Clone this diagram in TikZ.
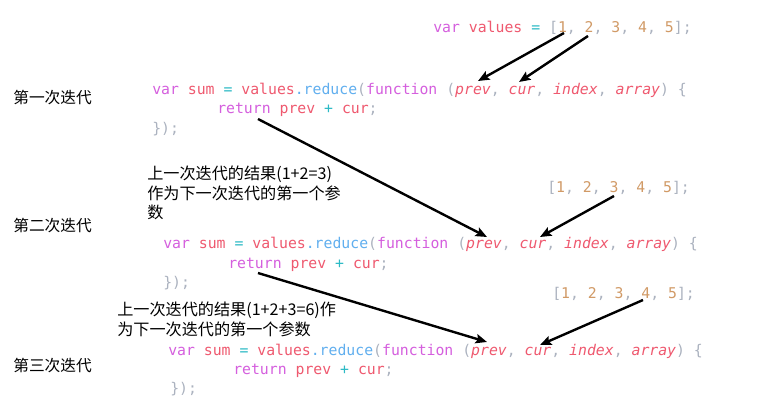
\documentclass[tikz,border=0pt]{standalone}
\usepackage{fontspec}
\usetikzlibrary{arrows.meta}
\newfontfamily\cjk{Noto Sans CJK SC}
\newfontfamily\codefont{DejaVu Sans Mono}
\definecolor{kwc}{HTML}{D55FDE}
\definecolor{vrc}{HTML}{EF596F}
\definecolor{opc}{HTML}{2BBAC5}
\definecolor{fnc}{HTML}{61AFEF}
\definecolor{puc}{HTML}{ABB2BF}
\definecolor{nmc}{HTML}{D19A66}
\newcommand\ckw[1]{\textcolor{kwc}{#1}}
\newcommand\cvr[1]{\textcolor{vrc}{#1}}
\newcommand\civ[1]{\textcolor{vrc}{\itshape #1}}
\newcommand\cop[1]{\textcolor{opc}{#1}}
\newcommand\cfn[1]{\textcolor{fnc}{#1}}
\newcommand\cpu[1]{\textcolor{puc}{#1}}
\newcommand\cnm[1]{\textcolor{nmc}{#1}}
\newcommand\codeA{\ckw{var} \cvr{sum} \cop{=} \cvr{values}\cfn{.reduce}\cpu{(}\ckw{function} \cpu{(}\civ{prev}\cpu{,} \civ{cur}\cpu{,} \civ{index}\cpu{,} \civ{array}\cpu{)} \cpu{\{}}
\newcommand\codeB{\ckw{return} \cvr{prev} \cop{+} \cvr{cur}\cpu{;}}
\newcommand\codeC{\cpu{\});}}
\newcommand\codeArr{\cpu{[}\cnm{1}\cpu{,} \cnm{2}\cpu{,} \cnm{3}\cpu{,} \cnm{4}\cpu{,} \cnm{5}\cpu{];}}
\tikzset{
  code/.style={inner sep=0pt, anchor=mid west, yshift=-2.2pt, font=\codefont\fontsize{11.1pt}{13pt}\selectfont},
  label/.style={inner sep=0pt, anchor=mid west, yshift=-2.6pt, font=\cjk\fontsize{11.8pt}{14.6pt}\selectfont},
  note/.style={inner sep=0pt, anchor=north west, yshift=-2.2pt, align=left, font=\cjk\fontsize{12.1pt}{14.6pt}\selectfont},
  arr/.style={-{Stealth[length=8.5pt,width=7pt,inset=1.5pt]}, line width=1.8pt, black}
}
\begin{document}
\begin{tikzpicture}[x=0.75pt,y=-0.75pt]
\fill[white] (0,0) rectangle (772,407);
\useasboundingbox (0,0) rectangle (772,407);
% top
\node[code] (top) at (433,27) {\ckw{var} \cvr{values} \cop{=} \codeArr};
% labels
\node[label] (it1) at (13,97) {第一次迭代};
\node[label] (it2) at (13,225) {第二次迭代};
\node[label] (it3) at (13,365) {第三次迭代};
% block 1
\node[code] (a1) at (152,89) {\codeA};
\node[code] (a2) at (217,108) {\codeB};
\node[code] (a3) at (152,128) {\codeC};
% annotation 1
\node[note] (n1) at (147,163) {上一次迭代的结果(1+2=3)\\作为下一次迭代的第一个参\\数};
\node[code] (arr2) at (547,187) {\codeArr};
% block 2
\node[code] (b1) at (163,243) {\codeA};
\node[code] (b2) at (228,263) {\codeB};
\node[code] (b3) at (163,282) {\codeC};
% annotation 2
\node[note] (n2) at (117,299) {上一次迭代的结果(1+2+3=6)作\\为下一次迭代的第一个参数};
\node[code] (arr3) at (552,293) {\codeArr};
% block 3
\node[code] (c1) at (168,350) {\codeA};
\node[code] (c2) at (233,369) {\codeB};
\node[code] (c3) at (170,388) {\codeC};
% arrow ends
\coordinate (s1) at (564,33);  \coordinate (e1) at (478,81);
\coordinate (s2) at (588,36);  \coordinate (e2) at (519,82);
\coordinate (s3) at (258,119); \coordinate (e3) at (487,237);
\coordinate (s4) at (614,196); \coordinate (e4) at (540,237);
\coordinate (s5) at (258,273); \coordinate (e5) at (487,342);
\coordinate (s6) at (643,300); \coordinate (e6) at (540,345);
\draw[arr] (s1) -- (e1);
\draw[arr] (s2) -- (e2);
\draw[arr] (s3) -- (e3);
\draw[arr] (s4) -- (e4);
\draw[arr] (s5) -- (e5);
\draw[arr] (s6) -- (e6);
\end{tikzpicture}
\end{document}
